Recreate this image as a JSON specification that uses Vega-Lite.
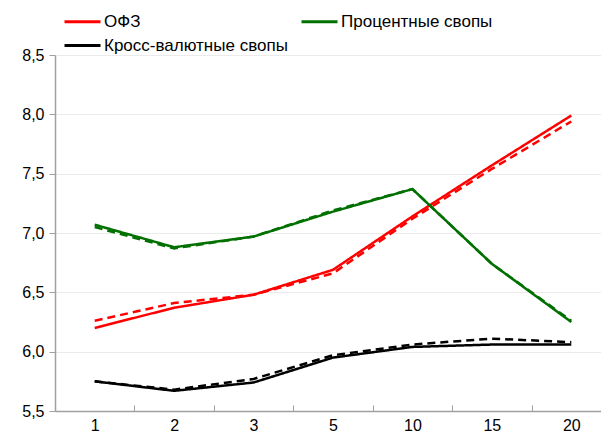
{
  "$schema": "https://vega.github.io/schema/vega-lite/v6.json",
  "width": 546,
  "height": 356,
  "autosize": {"type": "none"},
  "padding": {"left": 55, "top": 55, "right": 0, "bottom": 32},
  "background": "white",
  "config": {
    "view": {"stroke": null},
    "font": "Liberation Sans",
    "axis": {"labelFont": "Liberation Sans", "labelColor": "#000000", "labelFontSize": 16},
    "legend": {
      "labelFont": "Liberation Sans",
      "labelFontSize": 17,
      "labelColor": "#000000",
      "labelLimit": 400,
      "symbolType": "stroke",
      "symbolSize": 1296,
      "symbolStrokeWidth": 3,
      "labelOffset": 2
    }
  },
  "data": {
    "values": [
      {"tenor": "1", "series": "ОФЗ", "kind": "solid", "value": 6.20},
      {"tenor": "2", "series": "ОФЗ", "kind": "solid", "value": 6.37},
      {"tenor": "3", "series": "ОФЗ", "kind": "solid", "value": 6.48},
      {"tenor": "5", "series": "ОФЗ", "kind": "solid", "value": 6.69},
      {"tenor": "10", "series": "ОФЗ", "kind": "solid", "value": 7.14},
      {"tenor": "15", "series": "ОФЗ", "kind": "solid", "value": 7.57},
      {"tenor": "20", "series": "ОФЗ", "kind": "solid", "value": 7.99},
      {"tenor": "1", "series": "ОФЗ", "kind": "dashed", "value": 6.26},
      {"tenor": "2", "series": "ОФЗ", "kind": "dashed", "value": 6.41},
      {"tenor": "3", "series": "ОФЗ", "kind": "dashed", "value": 6.48},
      {"tenor": "5", "series": "ОФЗ", "kind": "dashed", "value": 6.66},
      {"tenor": "10", "series": "ОФЗ", "kind": "dashed", "value": 7.12},
      {"tenor": "15", "series": "ОФЗ", "kind": "dashed", "value": 7.54},
      {"tenor": "20", "series": "ОФЗ", "kind": "dashed", "value": 7.94},
      {"tenor": "1", "series": "Процентные свопы", "kind": "solid", "value": 7.07},
      {"tenor": "2", "series": "Процентные свопы", "kind": "solid", "value": 6.88},
      {"tenor": "3", "series": "Процентные свопы", "kind": "solid", "value": 6.97},
      {"tenor": "5", "series": "Процентные свопы", "kind": "solid", "value": 7.18},
      {"tenor": "10", "series": "Процентные свопы", "kind": "solid", "value": 7.37},
      {"tenor": "15", "series": "Процентные свопы", "kind": "solid", "value": 6.74},
      {"tenor": "20", "series": "Процентные свопы", "kind": "solid", "value": 6.25},
      {"tenor": "1", "series": "Процентные свопы", "kind": "dashed", "value": 7.05},
      {"tenor": "2", "series": "Процентные свопы", "kind": "dashed", "value": 6.87},
      {"tenor": "3", "series": "Процентные свопы", "kind": "dashed", "value": 6.97},
      {"tenor": "5", "series": "Процентные свопы", "kind": "dashed", "value": 7.19},
      {"tenor": "10", "series": "Процентные свопы", "kind": "dashed", "value": 7.37},
      {"tenor": "15", "series": "Процентные свопы", "kind": "dashed", "value": 6.74},
      {"tenor": "20", "series": "Процентные свопы", "kind": "dashed", "value": 6.26},
      {"tenor": "1", "series": "Кросс-валютные свопы", "kind": "solid", "value": 5.75},
      {"tenor": "2", "series": "Кросс-валютные свопы", "kind": "solid", "value": 5.67},
      {"tenor": "3", "series": "Кросс-валютные свопы", "kind": "solid", "value": 5.74},
      {"tenor": "5", "series": "Кросс-валютные свопы", "kind": "solid", "value": 5.95},
      {"tenor": "10", "series": "Кросс-валютные свопы", "kind": "solid", "value": 6.04},
      {"tenor": "15", "series": "Кросс-валютные свопы", "kind": "solid", "value": 6.06},
      {"tenor": "20", "series": "Кросс-валютные свопы", "kind": "solid", "value": 6.06},
      {"tenor": "1", "series": "Кросс-валютные свопы", "kind": "dashed", "value": 5.75},
      {"tenor": "2", "series": "Кросс-валютные свопы", "kind": "dashed", "value": 5.68},
      {"tenor": "3", "series": "Кросс-валютные свопы", "kind": "dashed", "value": 5.77},
      {"tenor": "5", "series": "Кросс-валютные свопы", "kind": "dashed", "value": 5.97},
      {"tenor": "10", "series": "Кросс-валютные свопы", "kind": "dashed", "value": 6.06},
      {"tenor": "15", "series": "Кросс-валютные свопы", "kind": "dashed", "value": 6.11},
      {"tenor": "20", "series": "Кросс-валютные свопы", "kind": "dashed", "value": 6.08}
    ]
  },
  "encoding": {
    "x": {
      "field": "tenor",
      "type": "ordinal",
      "sort": ["1", "2", "3", "5", "10", "15", "20"],
      "bandPosition": 0.5,
      "scale": {"type": "band", "range": [0, 556], "paddingInner": 0, "paddingOuter": 0},
      "axis": {
        "title": null,
        "labelAngle": 0,
        "grid": false,
        "tickBand": "extent",
        "domainColor": "#a0a0a0",
        "domainWidth": 1.5,
        "tickColor": "#a0a0a0",
        "tickSize": -6,
        "labelPadding": 12,
        "labelFontSize": 16
      }
    },
    "y": {
      "field": "value",
      "type": "quantitative",
      "scale": {"domain": [5.5, 8.5], "nice": false, "zero": false},
      "axis": {
        "title": null,
        "values": [5.5, 6.0, 6.5, 7.0, 7.5, 8.0, 8.5],
        "labelExpr": "replace(format(datum.value, '.1f'), '.', ',')",
        "grid": true,
        "gridColor": "#ebebeb",
        "gridWidth": 1,
        "domainColor": "#a0a0a0",
        "domainWidth": 1.5,
        "tickColor": "#a0a0a0",
        "tickSize": 6,
        "labelPadding": 5,
        "labelFontSize": 16
      }
    },
    "strokeDash": {
      "field": "kind",
      "type": "nominal",
      "scale": {"domain": ["solid", "dashed"], "range": [[1, 0], [8, 5]]},
      "legend": null
    }
  },
  "layer": [
    {
      "transform": [{"filter": "datum.series === 'Кросс-валютные свопы'"}],
      "mark": {"type": "line", "strokeWidth": 2.5, "strokeCap": "butt"},
      "encoding": {
        "color": {
          "field": "series",
          "type": "nominal",
          "scale": {"domain": ["Кросс-валютные свопы"], "range": ["#000000"]},
          "legend": {
            "title": null,
            "orient": "none",
            "legendX": 8,
            "legendY": -29
          }
        }
      }
    },
    {
      "transform": [{"filter": "datum.series !== 'Кросс-валютные свопы'"}],
      "mark": {"type": "line", "strokeWidth": 2.5, "strokeCap": "butt"},
      "encoding": {
        "color": {
          "field": "series",
          "type": "nominal",
          "scale": {
            "domain": ["ОФЗ", "Процентные свопы"],
            "range": ["#ff0000", "#007000"]
          },
          "legend": {
            "title": null,
            "orient": "none",
            "legendX": 8,
            "legendY": -53,
            "direction": "horizontal",
            "columnPadding": 154
          }
        }
      }
    }
  ],
  "resolve": {"scale": {"color": "independent"}}
}
